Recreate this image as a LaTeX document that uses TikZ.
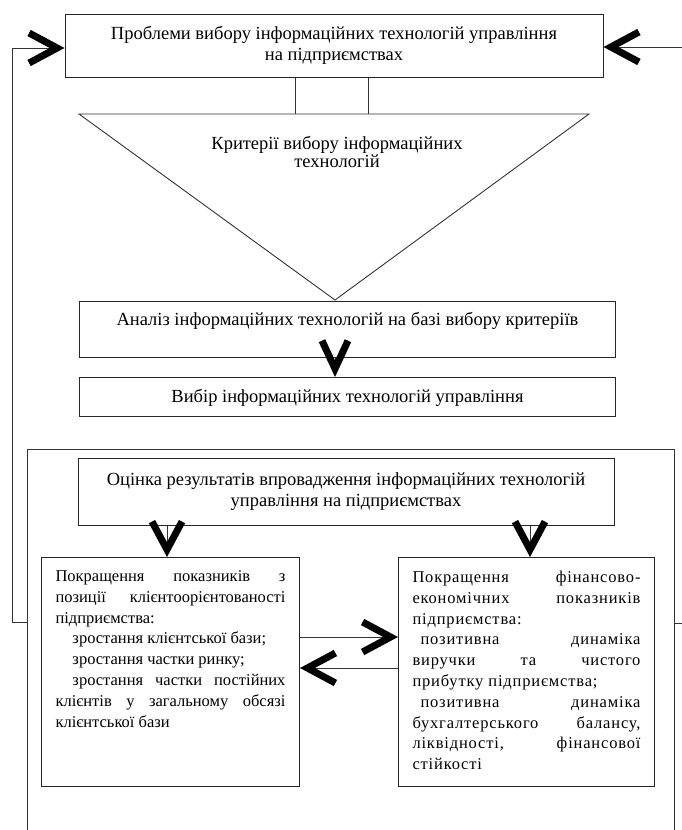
\documentclass[tikz,border=0pt]{standalone}
\usepackage{fontspec}
\setmainfont{Liberation Serif}
\usetikzlibrary{arrows.meta}
\newcommand\upperfont{\fontsize{18.5pt}{21pt}\selectfont}
\newcommand\leftfont{\fontsize{16.5pt}{20.8pt}\selectfont}
\newcommand\rightfont{\fontsize{16.5pt}{20.8pt}\selectfont\addfontfeatures{LetterSpace=5}}
\newcommand\jlL[1]{\leavevmode\hbox to 230pt{\spaceskip=0pt\xspaceskip=0pt\relax #1}}
\newcommand\jlR[1]{\leavevmode\hbox to 228pt{\spaceskip=0pt\xspaceskip=0pt\relax #1}}
\tikzset{
  box/.style={draw=black!85, line width=1pt, inner sep=0pt},
  conn/.style={draw=black!80, line width=0.9pt},
  chev/.style={conn, -{Straight Barb[length=28pt,width=30pt,line width=7pt,color=black]}},
  chevs/.style={conn, -{Straight Barb[length=28pt,width=26pt,line width=7pt,color=black]}},
}
\begin{document}
\begin{tikzpicture}[x=1pt,y=-1pt]
\useasboundingbox (0,0) rectangle (682,830);
\clip (0,0) rectangle (682,830);

% top box
\node[box, minimum width=538pt, minimum height=63pt, align=center, font=\upperfont] (top) at (334,45.5)
  {Проблеми вибору інформаційних технологій управління\\на підприємствах};

% triangle
\coordinate (tl) at (79,114);
\coordinate (tr) at (589,114);
\coordinate (tb) at (335,300);
\draw[conn] (tl) -- (tr) -- (tb) -- cycle;
\node[align=center, font=\fontsize{18.5pt}{18.5pt}\selectfont, inner sep=0pt] (crit) at (337,152)
  {Критерії вибору інформаційних\\технологій};
\draw[conn] (top.south -| 295,0) -- (295,0 |- tl);
\draw[conn] (top.south -| 368,0) -- (368,0 |- tl);

% analysis
\node[box, anchor=north west, minimum width=536pt, text height=24pt, text depth=32pt, font=\upperfont] (anal) at (79,301)
  {Аналіз інформаційних технологій на базі вибору критеріїв};
% choice
\node[box, anchor=north west, minimum width=536pt, text height=25pt, text depth=14pt, font=\upperfont] (vib) at (79,377)
  {Вибір інформаційних технологій управління};
\draw[chevs] (anal.south -| tb) -- (vib.north -| tb);

% outer frame
\coordinate (olb) at (27,840);
\coordinate (olt) at (27,449);
\coordinate (ort) at (674,449);
\coordinate (orb) at (674,840);
\draw[conn, line width=1pt] (olb) -- (olt) -- (ort) -- (orb);

% evaluation box
\node[box, minimum width=536pt, minimum height=67pt, align=center, font=\upperfont] (eval) at (346,491.5)
  {Оцінка результатів впровадження інформаційних технологій\\управління на підприємствах};

% left box
\node[box, anchor=north west, text width=230pt, align=justify, inner xsep=14pt, inner ysep=0pt,
      text height=24pt, text depth=205pt, font=\leftfont] (L) at (41,557)
  {\jlL{Покращення показників з}\\
   \jlL{позиції клієнтоорієнтованості}\\
   підприємства:\\
   \hspace*{17pt}зростання клієнтської бази;\\
   \hspace*{17pt}зростання частки ринку;\\
   \jlL{\hspace*{17pt}зростання частки постійних}\\
   \jlL{клієнтів у загальному обсязі}\\
   клієнтської бази};

% right box
\node[box, anchor=north west, text width=228pt, align=justify, inner xsep=14pt, inner ysep=0pt,
      text height=25pt, text depth=204pt, font=\rightfont] (R) at (398,557)
  {\jlR{Покращення фінансово-}\\
   \jlR{економічних показників}\\
   підприємства:\\
   \jlR{\hspace*{8pt}позитивна динаміка}\\
   \jlR{виручки та чистого}\\
   прибутку підприємства;\\
   \jlR{\hspace*{8pt}позитивна динаміка}\\
   \jlR{бухгалтерського балансу,}\\
   \jlR{ліквідності, фінансової}\\
   стійкості};

% arrows from evaluation to children
\draw[chev] (eval.south -| 167,0) -- (L.north -| 167,0);
\draw[chev] (eval.south -| 530,0) -- (R.north -| 530,0);

% arrows between children
\draw[chev] (L.east |- 0,637) -- (R.west |- 0,637);
\draw[chev] (R.west |- 0,668) -- (L.east |- 0,668);

% feedback loops
\coordinate (fbLo) at (27,622);
\coordinate (fbL) at (12,48);
\coordinate (fbRo) at (674,623);
\coordinate (fbR) at (684,47);
\draw[chev] (fbLo) -| (fbL) -- (fbL -| top.west);
\draw[chev] (fbRo) -| (fbR) -- (fbR -| top.east);
\end{tikzpicture}
\end{document}
